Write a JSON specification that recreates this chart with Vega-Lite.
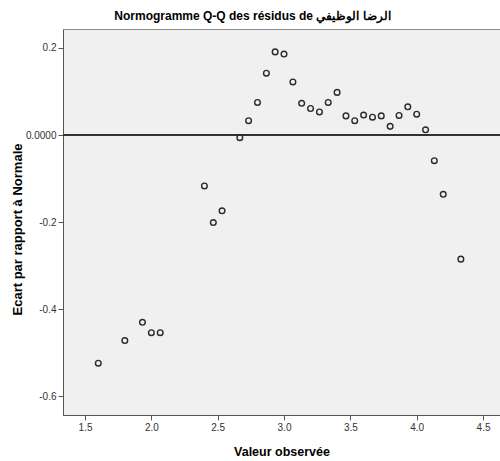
{
  "$schema": "https://vega.github.io/schema/vega-lite/v6.json",
  "autosize": {"type": "none"},
  "width": 437,
  "height": 386,
  "padding": {"left": 63, "top": 29, "right": 0, "bottom": 46},
  "background": "white",
  "config": {
    "font": "Liberation Sans",
    "view": {"fill": "#f0f0f0", "stroke": "#8c8c8c", "strokeWidth": 1}
  },
  "title": {
    "text": "Normogramme Q-Q des résidus de الرضا الوظيفي",
    "font": "Liberation Sans",
    "fontSize": 12,
    "fontWeight": "bold",
    "color": "#000000",
    "anchor": "middle",
    "dx": -29,
    "offset": 6
  },
  "data": {
    "values": [
      {"observed": 1.600, "deviation": -0.524},
      {"observed": 1.800, "deviation": -0.472},
      {"observed": 1.933, "deviation": -0.430},
      {"observed": 2.000, "deviation": -0.454},
      {"observed": 2.067, "deviation": -0.454},
      {"observed": 2.400, "deviation": -0.117},
      {"observed": 2.467, "deviation": -0.201},
      {"observed": 2.533, "deviation": -0.174},
      {"observed": 2.667, "deviation": -0.006},
      {"observed": 2.733, "deviation": 0.033},
      {"observed": 2.800, "deviation": 0.075},
      {"observed": 2.867, "deviation": 0.142},
      {"observed": 2.933, "deviation": 0.191},
      {"observed": 3.000, "deviation": 0.186},
      {"observed": 3.067, "deviation": 0.122},
      {"observed": 3.133, "deviation": 0.073},
      {"observed": 3.200, "deviation": 0.061},
      {"observed": 3.267, "deviation": 0.053},
      {"observed": 3.333, "deviation": 0.075},
      {"observed": 3.400, "deviation": 0.098},
      {"observed": 3.467, "deviation": 0.044},
      {"observed": 3.533, "deviation": 0.033},
      {"observed": 3.600, "deviation": 0.046},
      {"observed": 3.667, "deviation": 0.041},
      {"observed": 3.733, "deviation": 0.044},
      {"observed": 3.800, "deviation": 0.020},
      {"observed": 3.867, "deviation": 0.045},
      {"observed": 3.933, "deviation": 0.065},
      {"observed": 4.000, "deviation": 0.048},
      {"observed": 4.067, "deviation": 0.012},
      {"observed": 4.133, "deviation": -0.059},
      {"observed": 4.200, "deviation": -0.136},
      {"observed": 4.333, "deviation": -0.285}
    ]
  },
  "layer": [
    {
      "mark": {"type": "rule", "color": "#333333", "strokeWidth": 1.4},
      "encoding": {"y": {"datum": 0, "type": "quantitative"}}
    },
    {
      "mark": {
        "type": "point",
        "shape": "circle",
        "filled": false,
        "size": 32,
        "stroke": "#2a2a2a",
        "strokeWidth": 1.4,
        "opacity": 1
      },
      "encoding": {
        "x": {
          "field": "observed",
          "type": "quantitative",
          "scale": {"domain": [1.334, 4.628], "nice": false, "zero": false},
          "axis": {
            "title": "Valeur observée",
            "values": [1.5, 2.0, 2.5, 3.0, 3.5, 4.0, 4.5],
            "format": ".1f",
            "grid": false,
            "domainColor": "#555555",
            "tickColor": "#555555",
            "tickSize": 5,
            "labelFontSize": 10,
            "labelColor": "#333333",
            "labelPadding": 2,
            "titleFontSize": 12.5,
            "titleFontWeight": "bold",
            "titleColor": "#000000",
            "titlePadding": 13
          }
        },
        "y": {
          "field": "deviation",
          "type": "quantitative",
          "scale": {"domain": [-0.643, 0.2436], "nice": false, "zero": false},
          "axis": {
            "title": "Ecart par rapport à Normale",
            "values": [-0.6, -0.4, -0.2, 0, 0.2],
            "labelExpr": "datum.value == 0 ? '0.0000' : (datum.value < 0 ? '-' : '') + format(abs(datum.value), '.1f')",
            "grid": false,
            "domainColor": "#555555",
            "tickColor": "#555555",
            "tickSize": 5,
            "labelFontSize": 10,
            "labelColor": "#333333",
            "labelPadding": 2,
            "titleFontSize": 13,
            "titleFontWeight": "bold",
            "titleColor": "#000000",
            "titlePadding": 1,
            "titleY": 200
          }
        }
      }
    }
  ]
}
